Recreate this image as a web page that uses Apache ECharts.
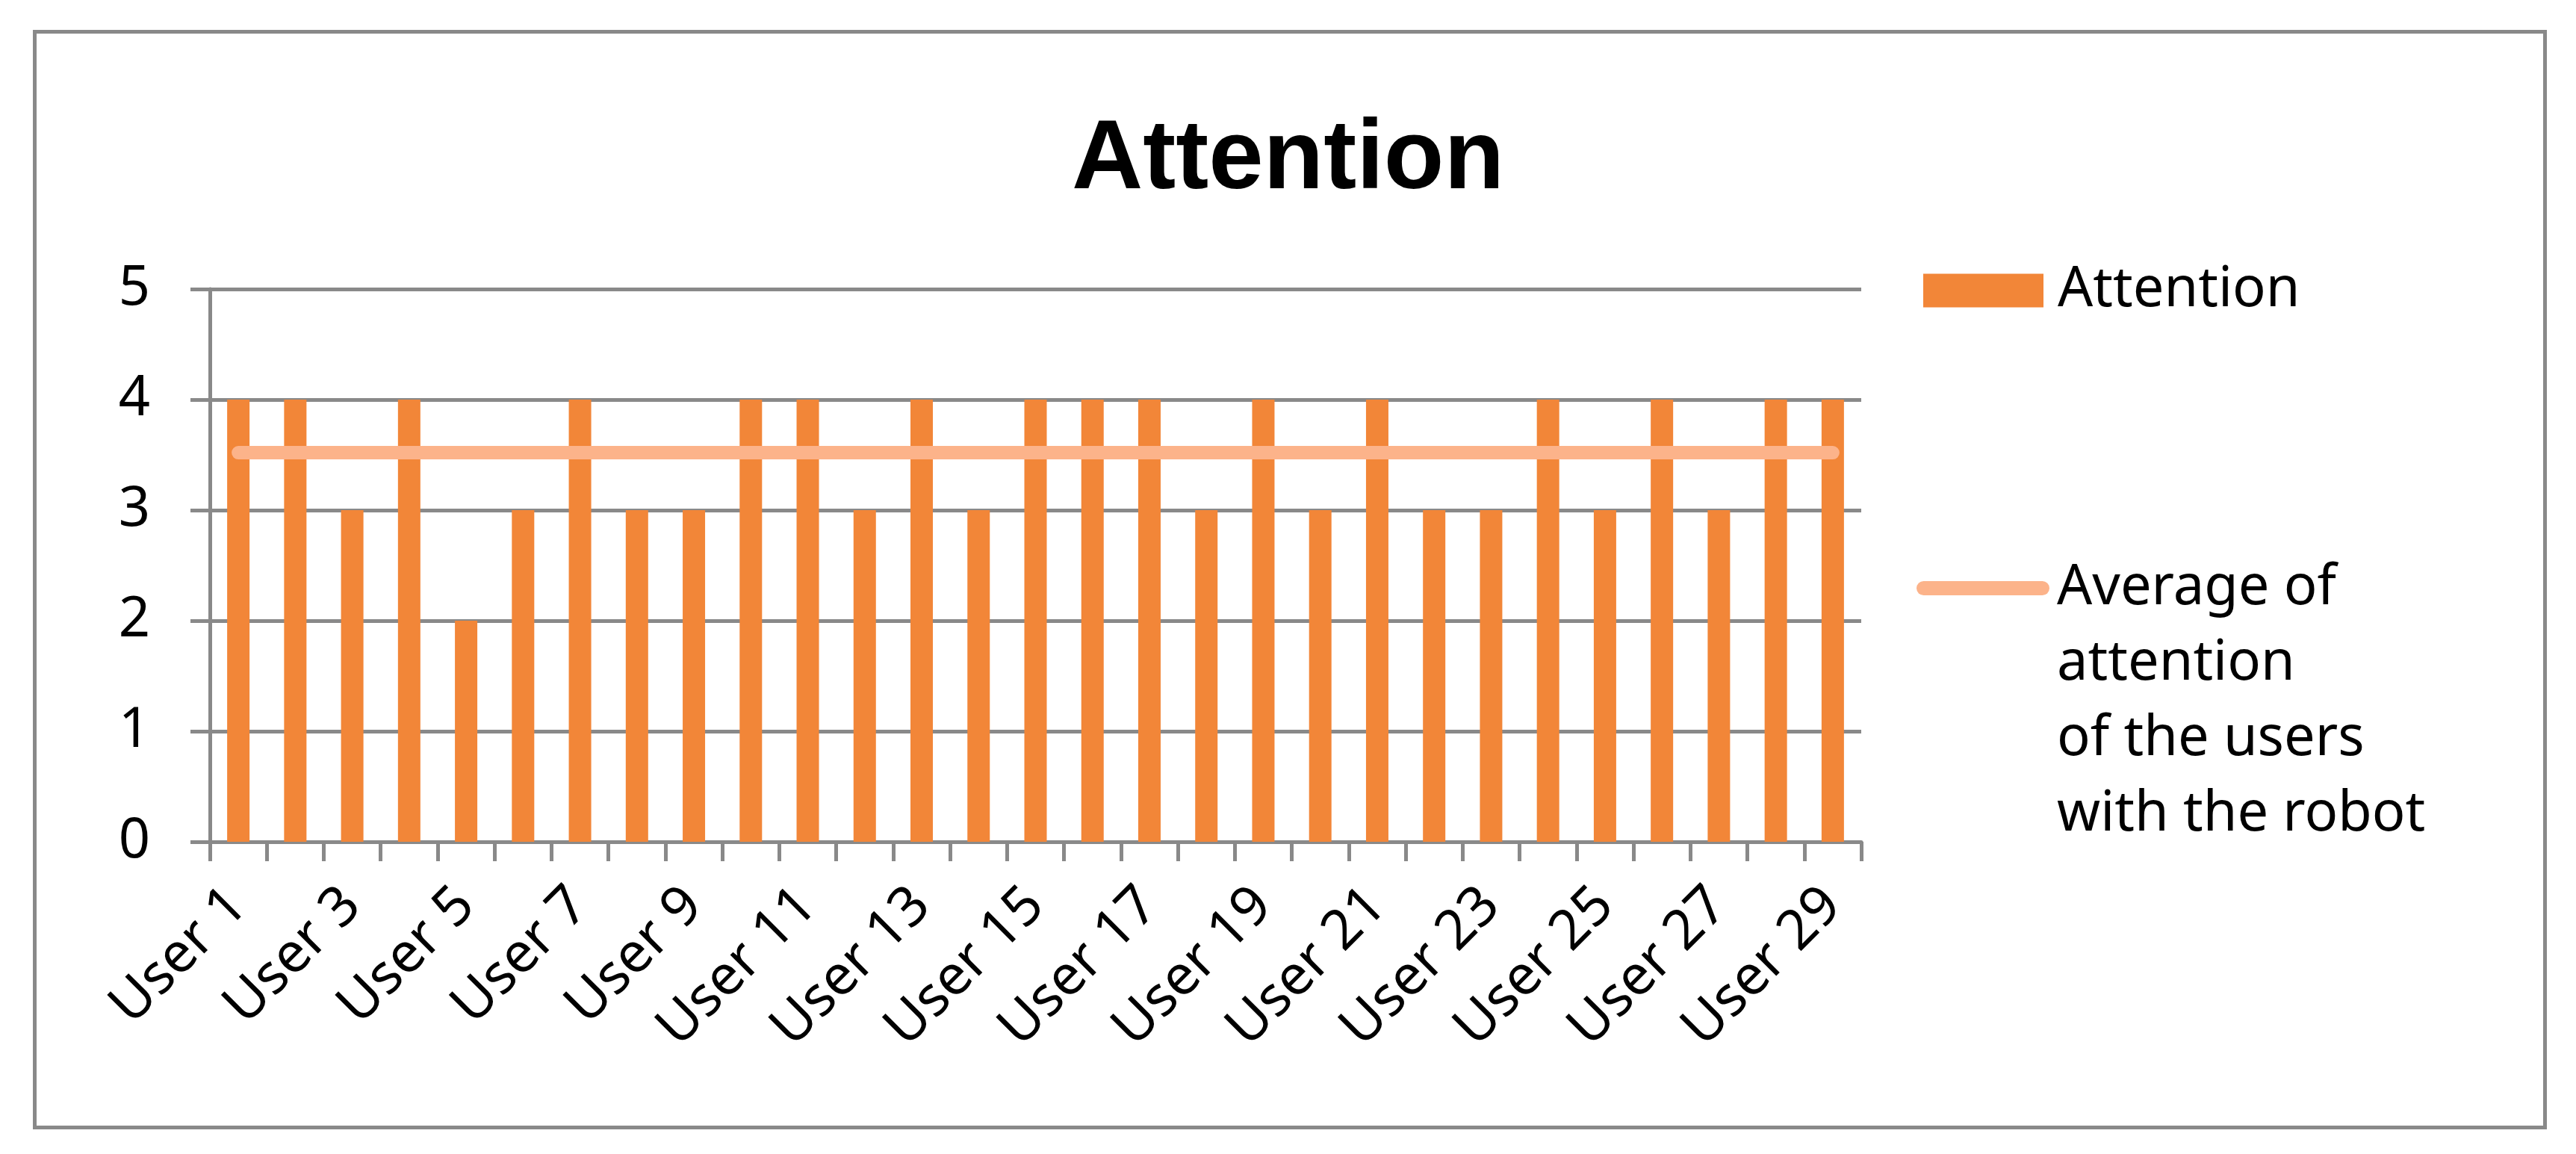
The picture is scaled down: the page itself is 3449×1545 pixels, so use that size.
<!DOCTYPE html>
<html>
<head>
<meta charset="utf-8">
<script src="https://cdn.jsdelivr.net/npm/echarts@6/dist/echarts.min.js"></script>
<style>
html,body{margin:0;padding:0;background:#fff;}
#chart{width:3449px;height:1545px;}
</style>
</head>
<body>
<div id="chart"></div>
<script>
const categories = ['User 1','User 2','User 3','User 4','User 5','User 6','User 7','User 8','User 9','User 10',
  'User 11','User 12','User 13','User 14','User 15','User 16','User 17','User 18','User 19','User 20',
  'User 21','User 22','User 23','User 24','User 25','User 26','User 27','User 28','User 29'];
const attention = [4,4,3,4,2,3,4,3,3,4, 4,3,4,3,4,4,4,3,4,3, 4,3,3,4,3,4,3,4,4];
const average = [3.52,3.52,3.52,3.52,3.52,3.52,3.52,3.52,3.52,3.52,
  3.52,3.52,3.52,3.52,3.52,3.52,3.52,3.52,3.52,3.52,
  3.52,3.52,3.52,3.52,3.52,3.52,3.52,3.52,3.52];
const yTicks = [0,1,2,3,4,5];
const barName = 'Attention';
const lineName = 'Average of\nattention\nof the users\nwith the robot';

const gray = '#898989';
const barColor = '#F28638';
const lineColor = '#FCB38A';
const font = 'Noto Sans';

const chart = echarts.init(document.getElementById('chart'), null, {renderer:'canvas'});
chart.setOption({
  animation: false,
  backgroundColor: '#fff',
  title: {
    text: 'Attention',
    left: 'center',
    top: 145,
    textStyle: {fontFamily: 'Liberation Sans', fontWeight: 'bold', fontSize: 132, color: '#000'}
  },
  graphic: [{
    type: 'rect', left: 44, top: 40,
    shape: {width: 3361, height: 1467},
    style: {fill: 'none', stroke: gray, lineWidth: 5}
  }],
  legend: [{
    data: [barName],
    orient: 'vertical',
    left: 2575, top: 352,
    padding: 0,
    itemWidth: 161, itemHeight: 45,
    icon: 'rect',
    textStyle: {fontFamily: font, fontSize: 74, lineHeight: 45, color: '#000', padding: [0,0,0,14]}
  },{
    data: [{name: lineName, icon: 'path://M9.5,0 H168.5 A9.5,9.5 0 0 1 168.5,19 H9.5 A9.5,9.5 0 0 1 9.5,0 Z'}],
    orient: 'vertical',
    left: 2566, top: 434,
    padding: 0,
    itemWidth: 178, itemHeight: 19,
    formatter: name => '\n\n\n' + name,
    textStyle: {fontFamily: font, fontSize: 74, lineHeight: 101, color: '#000', padding: [0,0,0,5]}
  }],
  grid: {left: 281, right: 957, top: 387, bottom: 418, containLabel: false},
  xAxis: {
    type: 'category',
    data: categories,
    boundaryGap: true,
    axisLine: {show: true, lineStyle: {color: gray, width: 5}},
    axisTick: {show: true, length: 26, interval: 0, lineStyle: {color: gray, width: 5}},
    axisLabel: {interval: 1, rotate: 45, margin: 74, fontFamily: font, fontSize: 74, color: '#000'},
    splitLine: {show: false}
  },
  yAxis: {
    type: 'value',
    min: 0, max: 5, interval: 1,
    axisLine: {show: true, lineStyle: {color: gray, width: 5}},
    axisTick: {show: true, length: 26, lineStyle: {color: gray, width: 5}},
    axisLabel: {margin: 80, fontFamily: font, fontSize: 74, color: '#000',
      formatter: v => yTicks.includes(v) ? String(v) : ''},
    splitLine: {show: true, lineStyle: {color: gray, width: 5}}
  },
  series: [{
    name: barName,
    type: 'bar',
    data: attention,
    barWidth: 30,
    itemStyle: {color: barColor},
    z: 2
  },{
    name: lineName,
    type: 'line',
    data: average,
    symbol: 'none',
    showSymbol: false,
    itemStyle: {color: lineColor},
    lineStyle: {color: lineColor, width: 18, cap: 'round'},
    z: 3
  }]
});
</script>
</body>
</html>
